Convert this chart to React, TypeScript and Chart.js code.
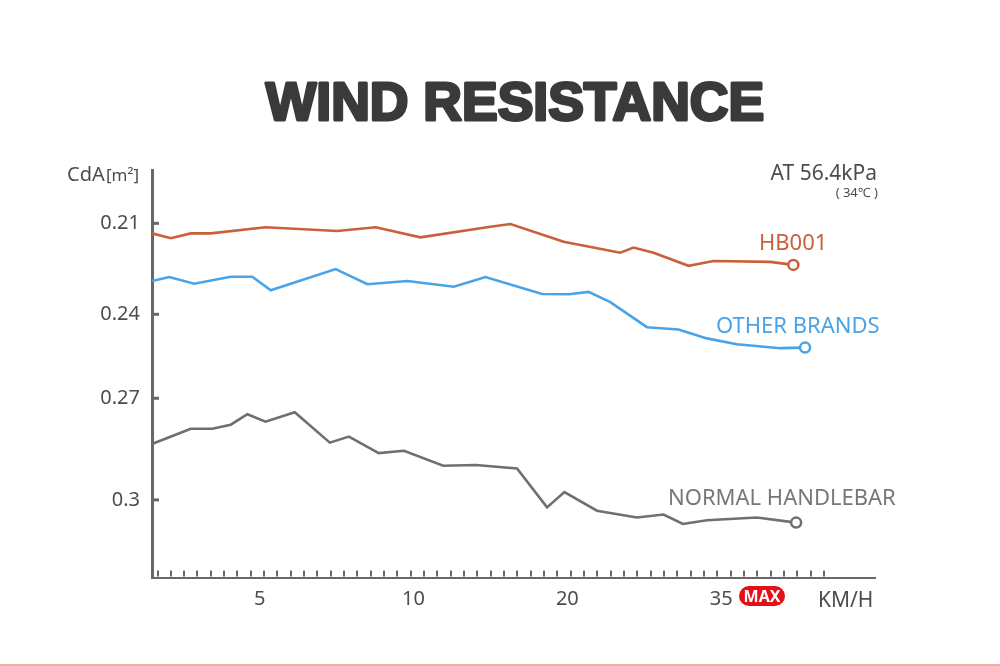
import { useEffect, useRef } from "react";
import { Chart, LinearScale, registerables } from "chart.js";

// bottom axis labels (km/h) and left axis labels (CdA)
const speedTicks = [5, 10, 20, 35];
const cdaTicks = [0.21, 0.24, 0.27, 0.3];

// HB001
const hb001Speed = [1.5, 2.11, 2.76, 3.41, 5.19, 7.52, 8.77, 10.45, 15.0, 16.3, 19.76, 25.16, 26.46, 28.41, 31.82, 34.25, 39.77, 42.04];
const hb001Cda = [0.2133, 0.2149, 0.2133, 0.2133, 0.2113, 0.2125, 0.2113, 0.2146, 0.2111, 0.2102, 0.2161, 0.2197, 0.218, 0.2197, 0.224, 0.2224, 0.2227, 0.2237];

// other brands
const otherSpeed = [1.5, 2.06, 2.87, 4.06, 4.76, 5.36, 7.47, 8.5, 9.8, 12.62, 14.68, 18.36, 20.13, 22.07, 24.19, 27.76, 30.84, 33.61, 36.53, 40.75, 43.18];
const otherCda = [0.229, 0.2277, 0.2299, 0.2276, 0.2276, 0.2321, 0.2251, 0.2301, 0.229, 0.2309, 0.2277, 0.2333, 0.2334, 0.2326, 0.236, 0.2446, 0.2454, 0.2486, 0.2507, 0.2521, 0.2519];

// normal handlebar
const normalSpeed = [1.5, 2.76, 3.46, 4.06, 4.6, 5.19, 6.14, 7.28, 7.9, 8.87, 9.69, 11.93, 14.03, 16.73, 18.68, 19.81, 22.89, 26.78, 29.38, 31.27, 33.61, 38.48, 42.31];
const normalCda = [0.2835, 0.279, 0.279, 0.2778, 0.2747, 0.2769, 0.2741, 0.2831, 0.2813, 0.2862, 0.2855, 0.2899, 0.2897, 0.2907, 0.3022, 0.2977, 0.3032, 0.3052, 0.3043, 0.3071, 0.306, 0.3052, 0.3067];

// the axes in the source are not linear: each labelled value sits at its own spot
const knotTable: Record<string, { values: number[]; pos: number[] }> = {
  x: { values: [0, 5, 10, 20, 35, 50], pos: [0, 1, 2, 3, 4, 5] },
  y: { values: [0.21, 0.24, 0.27, 0.3], pos: [0, 91, 175, 276.7] },
};

class KnotScale extends LinearScale {
  static id = "knot";
  static defaults = LinearScale.defaults;

  toPos(v: number) {
    const { values, pos } = knotTable[this.id];
    let i = 0;
    while (i < values.length - 2 && v > values[i + 1]) i++;
    return pos[i] + ((v - values[i]) / (values[i + 1] - values[i])) * (pos[i + 1] - pos[i]);
  }

  fromPos(p: number) {
    const { values, pos } = knotTable[this.id];
    let i = 0;
    while (i < pos.length - 2 && p > pos[i + 1]) i++;
    return values[i] + ((p - pos[i]) / (pos[i + 1] - pos[i])) * (values[i + 1] - values[i]);
  }

  getPixelForValue(value: number) {
    const a = this.toPos(this.min);
    const b = this.toPos(this.max);
    return this.getPixelForDecimal((this.toPos(value) - a) / (b - a));
  }

  getValueForPixel(pixel: number) {
    const a = this.toPos(this.min);
    const b = this.toPos(this.max);
    return this.fromPos(a + this.getDecimalForPixel(pixel) * (b - a));
  }
}

Chart.register(...registerables, KnotScale);

const AXIS = "#686868";
const TEXT = "#4d4d4d";
const ORANGE = "#c9603a";
const BLUE = "#4aa3e6";
const GRAY = "#6f6f6f";

const toPoints = (xs: number[], ys: number[]) => xs.map((x, i) => ({ x, y: ys[i] }));

const decor = {
  id: "decor",
  afterDraw(chart: Chart) {
    const { ctx, chartArea } = chart;
    const { left, bottom } = chartArea;
    const yScale = chart.scales.y;
    ctx.save();

    // small ticks sitting on the bottom axis
    ctx.strokeStyle = AXIS;
    ctx.lineWidth = 2;
    for (let k = 0; k <= 50; k++) {
      const px = Math.round(left + 5.5 + k * 13.33);
      ctx.beginPath();
      ctx.moveTo(px, bottom - 1);
      ctx.lineTo(px, bottom - 7);
      ctx.stroke();
    }

    // inward ticks on the left axis
    ctx.lineWidth = 3;
    cdaTicks.forEach((v) => {
      const py = yScale.getPixelForValue(v);
      ctx.beginPath();
      ctx.moveTo(left, py);
      ctx.lineTo(left + 7, py);
      ctx.stroke();
    });

    // title
    ctx.fillStyle = "#3a3a3a";
    ctx.strokeStyle = "#3a3a3a";
    ctx.lineWidth = 3;
    ctx.lineJoin = "round";
    ctx.textAlign = "center";
    ctx.textBaseline = "alphabetic";
    ctx.font = "bold 53.5px 'Liberation Sans', Arial, sans-serif";
    ctx.fillText("WIND RESISTANCE", 515, 119.5);
    ctx.strokeText("WIND RESISTANCE", 515, 119.5);

    // axis captions
    ctx.fillStyle = TEXT;
    ctx.textAlign = "left";
    ctx.font = "20px 'Noto Sans'";
    ctx.fillText("CdA", 67, 180.5);
    ctx.font = "17px 'Noto Sans'";
    ctx.fillText("[m²]", 106, 180.5);

    ctx.textAlign = "right";
    ctx.font = "21px 'Noto Sans'";
    ctx.fillText("AT 56.4kPa", 877, 179.5);
    ctx.font = "13px 'Noto Sans'";
    ctx.fillText("( 34℃ )", 878, 197);

    ctx.textAlign = "left";
    ctx.font = "21px 'Noto Sans'";
    ctx.fillText("KM/H", 818, 606.5);

    // series names
    ctx.font = "22px 'Noto Sans'";
    ctx.fillStyle = ORANGE;
    ctx.fillText("HB001", 759, 250);
    ctx.fillStyle = BLUE;
    ctx.fillText("OTHER BRANDS", 716, 333);
    ctx.fillStyle = "#777777";
    ctx.fillText("NORMAL HANDLEBAR", 668, 505);

    // MAX badge
    ctx.fillStyle = "#e60f17";
    ctx.beginPath();
    ctx.roundRect(739, 586, 46, 20, 10);
    ctx.fill();
    ctx.fillStyle = "#ffffff";
    ctx.textAlign = "center";
    ctx.textBaseline = "middle";
    ctx.font = "bold 16px 'Noto Sans'";
    ctx.fillText("MAX", 762, 597);

    // thin strip along the bottom edge
    ctx.fillStyle = "#e8b49b";
    ctx.fillRect(0, 664, 1000, 2);

    ctx.restore();
  },
};

const lastOnly = (size: number) => (c: any) =>
  c.dataIndex === c.dataset.data.length - 1 ? size : 0;

const line = (label: string, xs: number[], ys: number[], color: string) => ({
  label,
  data: toPoints(xs, ys),
  borderColor: color,
  borderWidth: 2.6,
  tension: 0,
  pointRadius: lastOnly(5),
  pointBorderWidth: 2.5,
  pointBorderColor: color,
  pointBackgroundColor: "#ffffff",
});

export default function App() {
  const canvasRef = useRef<HTMLCanvasElement | null>(null);
  const chartRef = useRef<Chart | null>(null);

  useEffect(() => {
    document.body.style.margin = "0";
    if (!canvasRef.current) return;
    if (chartRef.current) chartRef.current.destroy();

    const tickFont = { family: "'Noto Sans'", size: 20 };

    chartRef.current = new Chart(canvasRef.current, {
      type: "line",
      data: {
        datasets: [
          line("HB001", hb001Speed, hb001Cda, ORANGE),
          line("OTHER BRANDS", otherSpeed, otherCda, BLUE),
          line("NORMAL HANDLEBAR", normalSpeed, normalCda, GRAY),
        ],
      },
      options: {
        animation: false,
        responsive: true,
        maintainAspectRatio: false,
        events: [],
        layout: { padding: { top: 170, right: 125, left: 0, bottom: 0 } },
        plugins: {
          legend: { display: false },
          tooltip: { enabled: false },
          title: { display: false },
        },
        scales: {
          x: {
            type: "knot" as any,
            min: 1.5,
            max: 50,
            bounds: "data",
            afterBuildTicks: (s: any) => {
              s.ticks = speedTicks.map((v) => ({ value: v }));
            },
            afterFit: (s: any) => {
              s.height = 88.5;
            },
            grid: { color: "transparent", drawTicks: false },
            border: { color: AXIS, width: 2 },
            ticks: {
              autoSkip: false,
              maxRotation: 0,
              padding: 10,
              color: TEXT,
              font: tickFont,
              callback: (v: any) => String(v),
            },
          },
          y: {
            type: "knot" as any,
            min: 0.1924,
            max: 0.3229,
            reverse: true,
            bounds: "data",
            afterBuildTicks: (s: any) => {
              s.ticks = cdaTicks.map((v) => ({ value: v }));
            },
            afterFit: (s: any) => {
              s.width = 152;
            },
            grid: { color: "transparent", drawTicks: false },
            border: { color: AXIS, width: 3 },
            ticks: {
              padding: 12,
              color: TEXT,
              font: tickFont,
              callback: (v: any) => String(v),
            },
          },
        },
      } as any,
      plugins: [decor],
    });

    return () => {
      if (chartRef.current) {
        chartRef.current.destroy();
        chartRef.current = null;
      }
    };
  }, []);

  return (
    <div style={{ position: "absolute", left: 0, top: 0, width: 1000, height: 666, background: "#ffffff" }}>
      <canvas ref={canvasRef} />
    </div>
  );
}
